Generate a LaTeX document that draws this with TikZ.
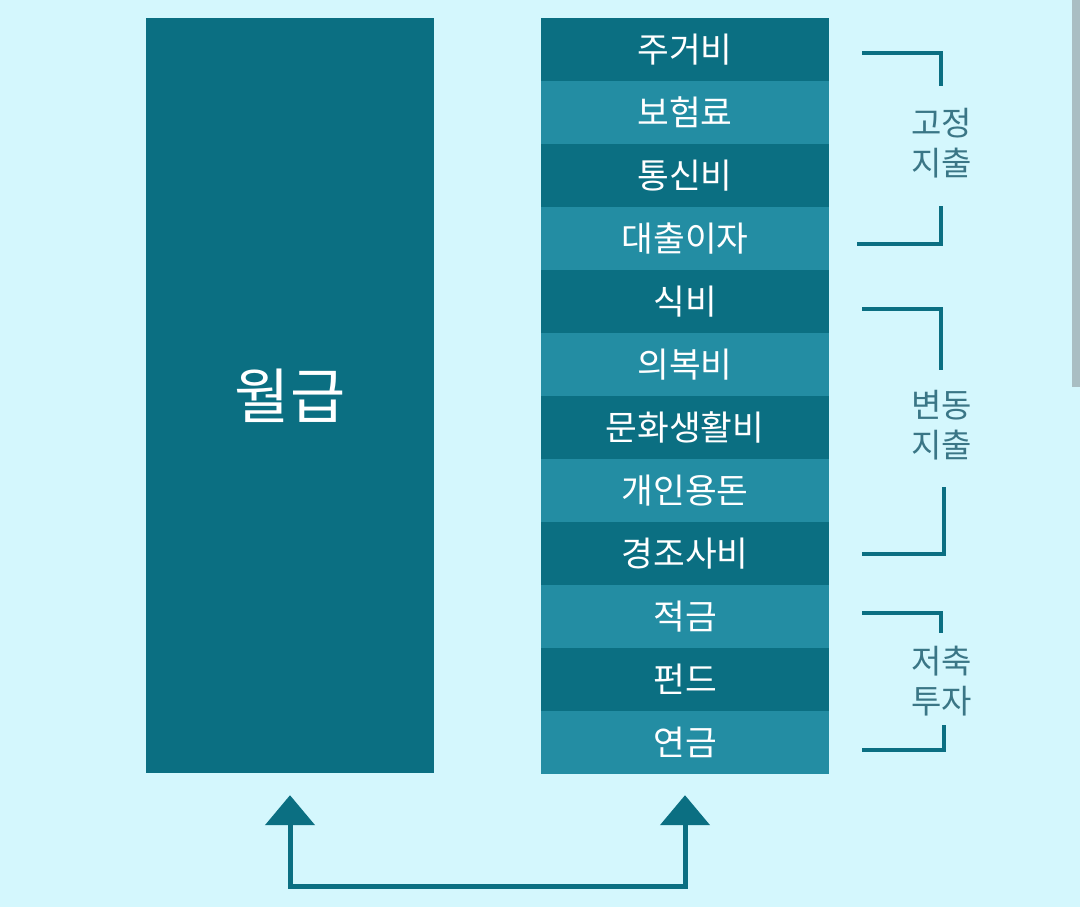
\documentclass[tikz,border=0pt]{standalone}
\usepackage{fontspec}
\setmainfont{Noto Sans CJK KR}
\usetikzlibrary{arrows.meta,calc}
\definecolor{bg}{HTML}{D4F7FD}
\definecolor{darkteal}{HTML}{0B6F82}
\definecolor{lightteal}{HTML}{238DA3}
\definecolor{labelc}{HTML}{3A7686}
\definecolor{barc}{HTML}{A9BEC3}
\tikzset{
  rowbox/.style={rectangle, inner sep=0pt, minimum width=288pt, minimum height=63pt, text=white, font=\fontsize{34.5}{40}\selectfont},
  darkrow/.style={rowbox, fill=darkteal},
  lightrow/.style={rowbox, fill=lightteal},
  bracketline/.style={draw=darkteal, line width=4pt, line join=miter, line cap=butt},
  grouplabel/.style={text=labelc, align=center, inner sep=0pt, font=\fontsize{33}{40}\selectfont},
  arrowline/.style={draw=darkteal, line width=5pt, line join=miter, {Triangle[width=49pt,length=30pt]}-{Triangle[width=49pt,length=30pt]}}
}
\begin{document}
\begin{tikzpicture}[x=1pt,y=-1pt]
\fill[bg] (0,0) rectangle (1080,907);
\useasboundingbox (0,0) rectangle (1080,907);
\fill[barc] (1072,0) rectangle (1080,387);
% salary box
\node[rectangle, fill=darkteal, inner sep=0pt, minimum width=288pt, minimum height=755pt, text=white, font=\fontsize{60}{66}\selectfont] (sal) at (290,395.5) {월급};
% expense rows
\node[darkrow]  (r1)  at (685, 49.5) {주거비};
\node[lightrow] (r2)  at (685,112.5) {보험료};
\node[darkrow]  (r3)  at (685,175.5) {통신비};
\node[lightrow] (r4)  at (685,238.5) {대출이자};
\node[darkrow]  (r5)  at (685,301.5) {식비};
\node[lightrow] (r6)  at (685,364.5) {의복비};
\node[darkrow]  (r7)  at (685,427.5) {문화생활비};
\node[lightrow] (r8)  at (685,490.5) {개인용돈};
\node[darkrow]  (r9)  at (685,553.5) {경조사비};
\node[lightrow] (r10) at (685,616.5) {적금};
\node[darkrow]  (r11) at (685,679.5) {펀드};
\node[lightrow] (r12) at (685,742.5) {연금};
% brackets
\draw[bracketline] (862,53) -- (941,53) -- (941,86);
\draw[bracketline] (941,206) -- (941,244) -- (857,244);
\draw[bracketline] (862,309) -- (941,309) -- (941,370);
\draw[bracketline] (944,487) -- (944,554) -- (862,554);
\draw[bracketline] (862,613) -- (941,613) -- (941,633);
\draw[bracketline] (944,725) -- (944,750) -- (862,750);
% group labels
\node[grouplabel] (g1) at (941.5,143) {고정\\지출};
\node[grouplabel] (g2) at (941.5,425) {변동\\지출};
\node[grouplabel] (g3) at (941.5,681) {저축\\투자};
% arrows
\coordinate (la) at ($(sal.south)+(0,22)$);
\coordinate (ra) at ($(r12.south)+(0,21)$);
\coordinate (lb) at ($(sal.south)+(0,113)$);
\coordinate (rb) at (ra |- lb);
\draw[arrowline] (la) -- (lb) -- (rb) -- (ra);
\end{tikzpicture}
\end{document}
